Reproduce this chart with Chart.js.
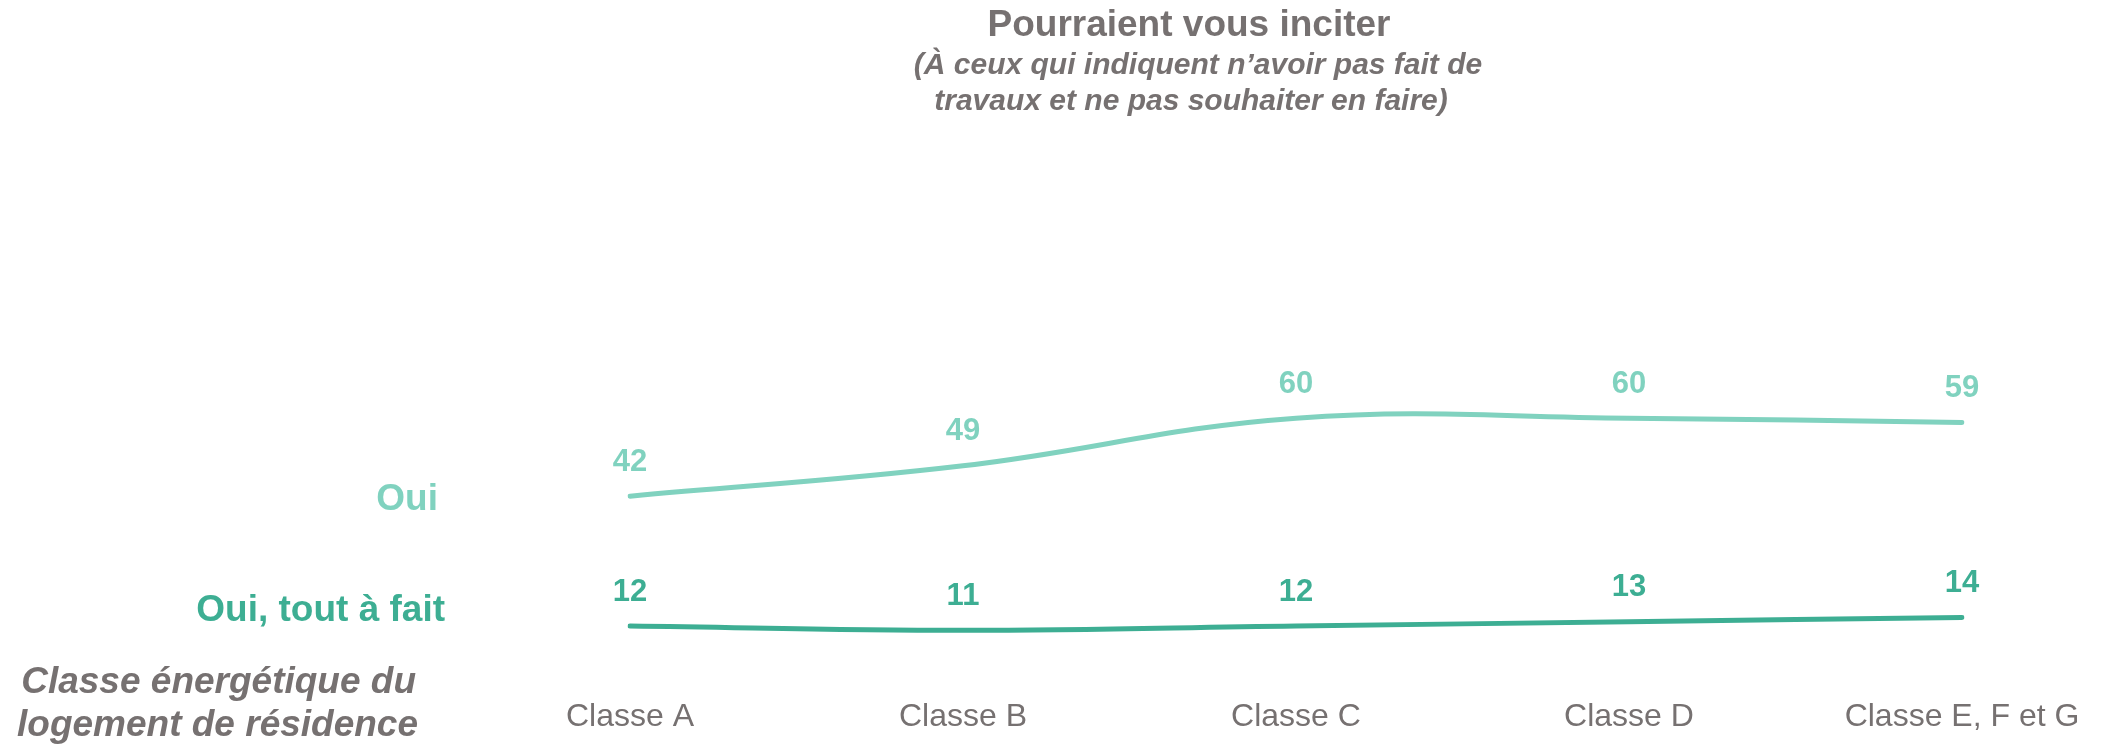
<!DOCTYPE html>
<html lang="fr">
<head>
<meta charset="utf-8">
<title>Pourraient vous inciter</title>
<script src="https://cdn.jsdelivr.net/npm/chart.js@4.4.1/dist/chart.umd.min.js"></script>
<style>
  html, body { margin: 0; padding: 0; background: #fff; }
  #wrap { position: relative; width: 2103px; height: 746px; }
</style>
</head>
<body>
<div id="wrap"><canvas id="incitationChart"></canvas></div>
<script>
const categories = ['Classe A', 'Classe B', 'Classe C', 'Classe D', 'Classe E, F et G'];
const ouiValues = [42, 49, 60, 60, 59];
const toutAFaitValues = [12, 11, 12, 13, 14];

const GREY = '#767171';
const LIGHT_GREEN = '#80d2bf';
const DARK_GREEN = '#3dae93';
const FONT = '"Liberation Sans", Arial, sans-serif';

Chart.defaults.font.family = FONT;
Chart.defaults.color = GREY;

// value above each point, same colour as its line
const valueLabels = {
    id: 'valueLabels',
    afterDatasetsDraw(chart) {
        const ctx = chart.ctx;
        ctx.save();
        ctx.font = 'bold 31px ' + FONT;
        ctx.textAlign = 'center';
        ctx.textBaseline = 'middle';
        chart.data.datasets.forEach((ds, i) => {
            const meta = chart.getDatasetMeta(i);
            ctx.fillStyle = ds.borderColor;
            meta.data.forEach((pt, j) => {
                ctx.fillText(ds.data[j], pt.x, pt.y - 34);
            });
        });
        ctx.restore();
    }
};

// titles and the series names on the left
const sideTexts = {
    id: 'sideTexts',
    afterDraw(chart) {
        const ctx = chart.ctx;
        ctx.save();
        ctx.textAlign = 'center';
        ctx.textBaseline = 'alphabetic';
        ctx.fillStyle = GREY;
        ctx.font = 'bold 37px ' + FONT;
        ctx.fillText('Pourraient vous inciter', 1189, 36);
        ctx.font = 'italic bold 30px ' + FONT;
        ctx.fillText('(À ceux qui indiquent n’avoir pas fait de', 1198, 74);
        ctx.fillText('travaux et ne pas souhaiter en faire)', 1191, 110);

        ctx.textAlign = 'right';
        ctx.font = 'bold 37px ' + FONT;
        ctx.fillStyle = LIGHT_GREEN;
        ctx.fillText('Oui', 438, 510);
        ctx.fillStyle = DARK_GREEN;
        ctx.fillText('Oui, tout à fait', 445, 621);

        ctx.fillStyle = GREY;
        ctx.font = 'italic bold 37px ' + FONT;
        ctx.fillText('Classe énergétique du', 416, 693);
        ctx.fillText('logement de résidence', 418, 736);
        ctx.restore();
    }
};

const chart = new Chart(document.getElementById('incitationChart'), {
    type: 'line',
    data: {
        labels: categories,
        datasets: [{
            label: 'Oui',
            data: ouiValues,
            borderColor: LIGHT_GREEN,
            borderWidth: 5,
            borderCapStyle: 'round',
            pointRadius: 0,
            tension: 0.4,
            fill: false
        },
        {
            label: 'Oui, tout à fait',
            data: toutAFaitValues,
            borderColor: DARK_GREEN,
            borderWidth: 5,
            borderCapStyle: 'round',
            pointRadius: 0,
            tension: 0.4,
            fill: false
        }]
    },
    options: {
        responsive: true,
        maintainAspectRatio: false,
        animation: false,
        layout: {
            padding: { left: 630, right: 141, top: 245, bottom: 0 }
        },
        plugins: {
            legend: { display: false },
            title: { display: false },
            tooltip: { enabled: false }
        },
        scales: {
            x: {
                offset: false,
                grid: { display: false, drawTicks: false },
                border: { display: false },
                ticks: {
                    color: GREY,
                    font: { size: 32 },
                    padding: 20,
                    maxRotation: 0,
                    autoSkip: false
                },
                afterFit(scale) {
                    scale.height = 68;
                }
            },
            y: {
                display: false,
                min: 0,
                max: 100
            }
        }
    },
    plugins: [valueLabels, sideTexts]
});
</script>
</body>
</html>
